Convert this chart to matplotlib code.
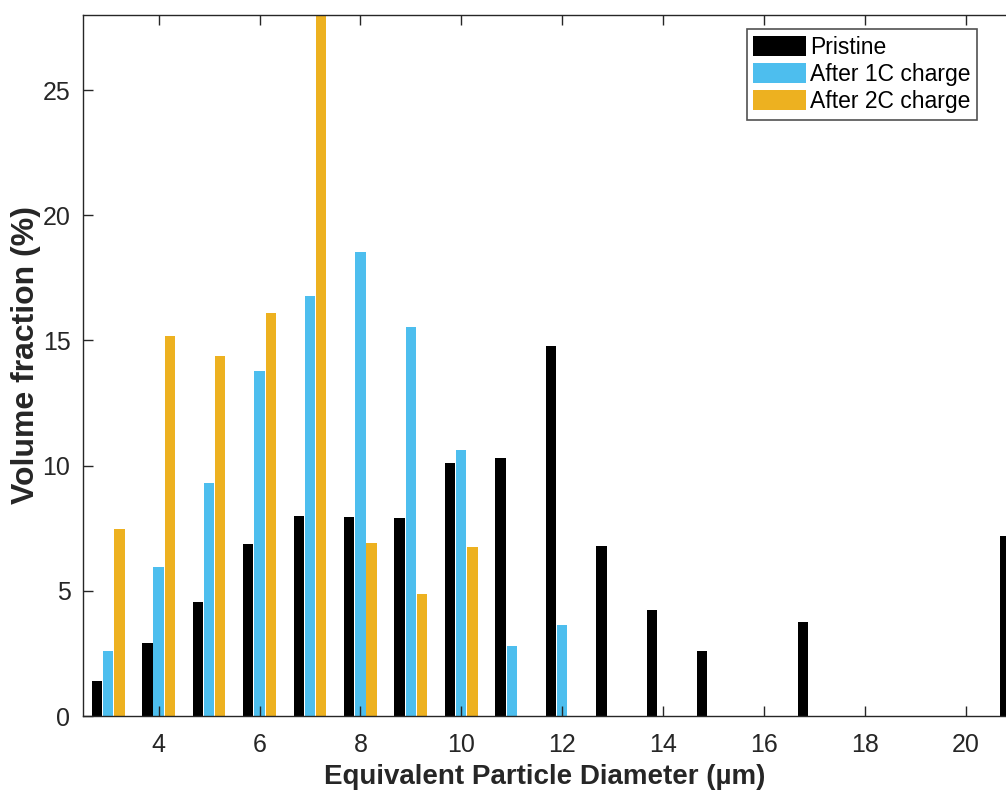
import matplotlib
matplotlib.use("Agg")
import matplotlib.pyplot as plt
import numpy as np

plt.rcParams['font.family'] = ['Liberation Sans', 'DejaVu Sans']

diameters = [3, 4, 5, 6, 7, 8, 9, 10, 11, 12, 13, 14, 15, 16, 17, 18, 19, 20, 21]
pristine = [1.40, 2.90, 4.55, 6.86, 7.98, 7.94, 7.91, 10.10, 10.32, 14.79, 6.79, 4.23, 2.59, 0, 3.76, 0, 0, 0, 7.20]
after_1c = [2.60, 5.97, 9.29, 13.80, 16.79, 18.52, 15.53, 10.61, 2.79, 3.63, 0, 0, 0, 0, 0, 0, 0, 0, 0]
after_2c = [7.47, 15.17, 14.37, 16.10, 29.0, 6.91, 4.89, 6.75, 0, 0, 0, 0, 0, 0, 0, 0, 0, 0, 0]
series_names = ["Pristine", "After 1C charge", "After 2C charge"]
colors = ["#000000", "#4DBEEE", "#EDB120"]

text_color = "#262626"

fig = plt.figure(figsize=(10.06, 7.94), dpi=100)
ax = fig.add_axes([0.0825, 0.0982, 0.9175, 0.8829])

x = np.array(diameters, dtype=float)
offset = 0.222
width = 0.205
for i, (vals, name, c) in enumerate(zip([pristine, after_1c, after_2c], series_names, colors)):
    ax.bar(x + (i - 1) * offset, vals, width=width, color=c, label=name, linewidth=0)

ax.set_xlim(2.5, 20.8)
ax.set_ylim(0, 28)
ax.set_xticks([4, 6, 8, 10, 12, 14, 16, 18, 20])
ax.set_yticks([0, 5, 10, 15, 20, 25])

ax.tick_params(direction='in', length=7, width=1, colors=text_color, labelsize=18,
               top=True, right=False)
ax.tick_params(axis='x', pad=12)
ax.tick_params(axis='y', pad=9)
for s in ['left', 'bottom', 'top']:
    ax.spines[s].set_color(text_color)
    ax.spines[s].set_linewidth(1)
ax.spines['right'].set_visible(False)

ax.set_xlabel("Equivalent Particle Diameter (µm)", fontsize=20, fontweight='bold',
              color=text_color, labelpad=5)
ax.set_ylabel("Volume fraction (%)", fontsize=23, fontweight='bold',
              color=text_color)
ax.yaxis.set_label_coords(-0.0455, 0.515)

leg = ax.legend(loc='upper right', bbox_to_anchor=(0.9686, 0.980), fontsize=16.5,
                frameon=True, fancybox=False, edgecolor=text_color,
                handlelength=2.3, handleheight=0.95, handletextpad=0.15,
                labelspacing=0.18, borderpad=0.3, borderaxespad=0)
leg.get_frame().set_linewidth(1.2)
for t in leg.get_texts():
    t.set_color("#000000")

fig.savefig("out.png", dpi=100)
